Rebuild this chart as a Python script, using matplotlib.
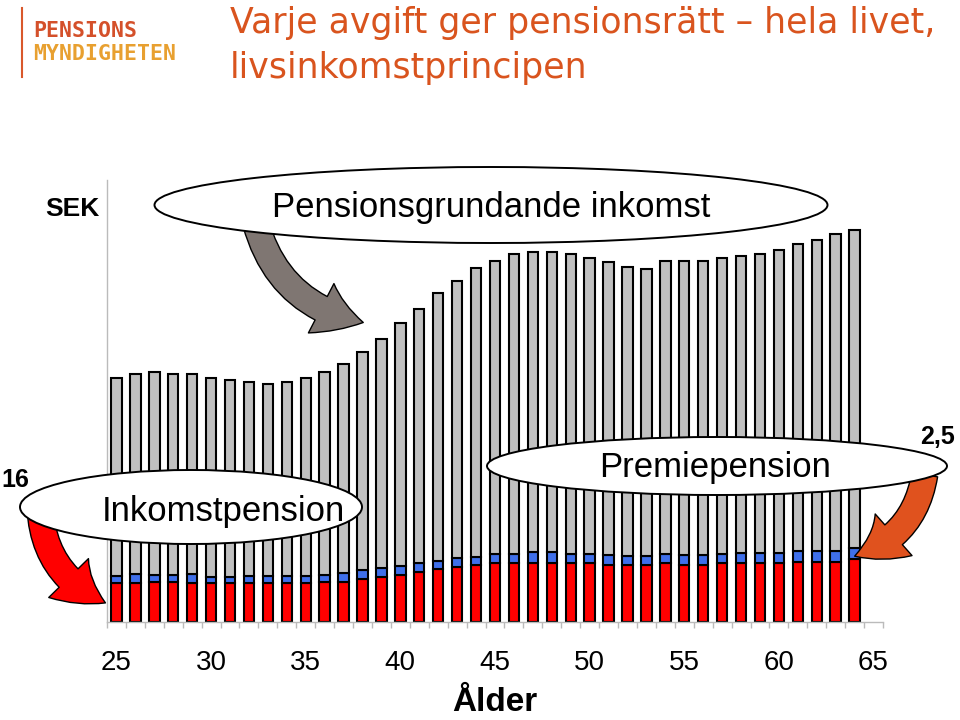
import numpy as np
import matplotlib.pyplot as plt
from matplotlib.patches import Ellipse, FancyArrowPatch
from matplotlib.lines import Line2D

# Ålder 25-64, höjder (godtycklig SEK-skala)
alder = np.arange(25, 65)
inkomst = [244, 248, 250, 248, 248, 244, 242, 240, 238, 240,
           244, 250, 258, 270, 283, 299, 313, 329, 341, 354,
           361, 368, 370, 370, 368, 364, 360, 355, 353, 361,
           361, 361, 364, 366, 368, 372, 378, 382, 388, 392]
inkomstpension = [39, 39, 40, 40, 39, 39, 39, 39, 39, 39,
                  39, 40, 40, 43, 45, 47, 50, 53, 55, 57,
                  59, 59, 59, 59, 59, 59, 57, 57, 57, 59,
                  57, 57, 59, 59, 59, 59, 60, 60, 60, 63]
premiepension = [7, 9, 7, 7, 9, 6, 6, 7, 7, 7,
                 7, 7, 9, 9, 9, 9, 9, 8, 9, 8,
                 9, 9, 11, 11, 9, 9, 10, 9, 9, 9,
                 10, 10, 9, 10, 10, 10, 11, 11, 11, 11]
xtick_labels = ['25', '30', '35', '40', '45', '50', '55', '60', '65']

rod = '#FF0000'
bla = '#3F6FEA'
gra = '#C0C0C0'
orange = '#D9541E'

W, H = 960, 720


def px(x, y):
    return x / W, 1 - y / H


fig = plt.figure(figsize=(9.6, 7.2), dpi=100)
ax = fig.add_axes([107 / W, (H - 622) / H, (883 - 107) / W, (622 - 180) / H])

ink = np.array(inkomst)
ip = np.array(inkomstpension)
pp = np.array(premiepension)
rest = ink - ip - pp

kw = dict(width=0.55, edgecolor='black', linewidth=1.5, zorder=2)
ax.bar(alder, ip, color=rod, **kw)
ax.bar(alder, pp, bottom=ip, color=bla, **kw)
ax.bar(alder, rest, bottom=ip + pp, color=gra, **kw)

ax.set_xlim(24.5, 65.5)
ax.set_ylim(0, 442)
for s in ['top', 'right']:
    ax.spines[s].set_visible(False)
for s in ['left', 'bottom']:
    ax.spines[s].set_color('#BBBBBB')
    ax.spines[s].set_linewidth(1.0)
ax.set_yticks([])
ax.set_xticks(np.arange(25, 66, 5))
ax.set_xticklabels(xtick_labels, fontsize=20, family='Liberation Sans')
ax.set_xticks(np.arange(24.5, 66, 1), minor=True)
ax.tick_params(axis='x', which='major', length=0, pad=20)
ax.tick_params(axis='x', which='minor', length=4, color='#BBBBBB', width=1)
ax.set_xlabel('Ålder', fontsize=24, fontweight='bold', family='Liberation Sans', labelpad=8)

# pilar (under ellipserna)
def pil(start, slut, farg, rad, zorder=3):
    p = FancyArrowPatch(px(*start), px(*slut), transform=fig.transFigure,
                        connectionstyle=f'arc3,rad={rad}',
                        arrowstyle='simple,head_width=40,head_length=32,tail_width=19',
                        mutation_scale=1, facecolor=farg, edgecolor='black',
                        linewidth=1.0, zorder=zorder)
    fig.patches.append(p)

pil((255, 220), (366, 323), '#7F7672', 0.32)
pil((40, 505), (108, 604), rod, 0.32)
pil((925, 472), (852, 557), '#E0521E', -0.32)

# ellipser
def ellips(cx, cy, w, h):
    e = Ellipse(px(cx, cy), w / W, h / H, transform=fig.transFigure,
                facecolor='white', edgecolor='black', linewidth=1.4, zorder=4)
    fig.patches.append(e)

ellips(491, 205, 673, 76)
ellips(191, 507, 342, 74)
ellips(717, 466, 460, 58)

txt = dict(fontsize=25, family='Liberation Sans', ha='center', va='center', zorder=5)
fig.text(*px(491, 207), 'Pensionsgrundande inkomst', **txt)
fig.text(*px(223, 512), 'Inkomstpension', **txt)
fig.text(*px(715, 467), 'Premiepension', **txt)

fet = dict(fontweight='bold', family='Liberation Sans', va='center')
fig.text(*px(72, 209), 'SEK', fontsize=19, ha='center', **fet)
fig.text(*px(29, 480), '16', fontsize=18, ha='right', **fet)
fig.text(*px(920, 437), '2,5', fontsize=18, ha='left', **fet)

# rubrik och logga
fig.text(*px(230, 33), 'Varje avgift ger pensionsrätt – hela livet,', fontsize=25,
         color=orange, family='DejaVu Sans', va='baseline')
fig.text(*px(230, 78), 'livsinkomstprincipen', fontsize=25,
         color=orange, family='DejaVu Sans', va='baseline')

fig.lines.append(Line2D([22 / W, 22 / W], [1 - 8 / H, 1 - 77 / H], transform=fig.transFigure,
                        color='#D9582B', linewidth=1.5))
fig.text(*px(33, 37), 'PENSIONS', fontsize=15.5, color='#D4502A', family='DejaVu Sans Mono',
         fontweight='bold', va='baseline')
fig.text(*px(33, 60), 'MYNDIGHETEN', fontsize=15.5, color='#E8A030', family='DejaVu Sans Mono',
         fontweight='bold', va='baseline')

fig.savefig('out.png', dpi=100)
